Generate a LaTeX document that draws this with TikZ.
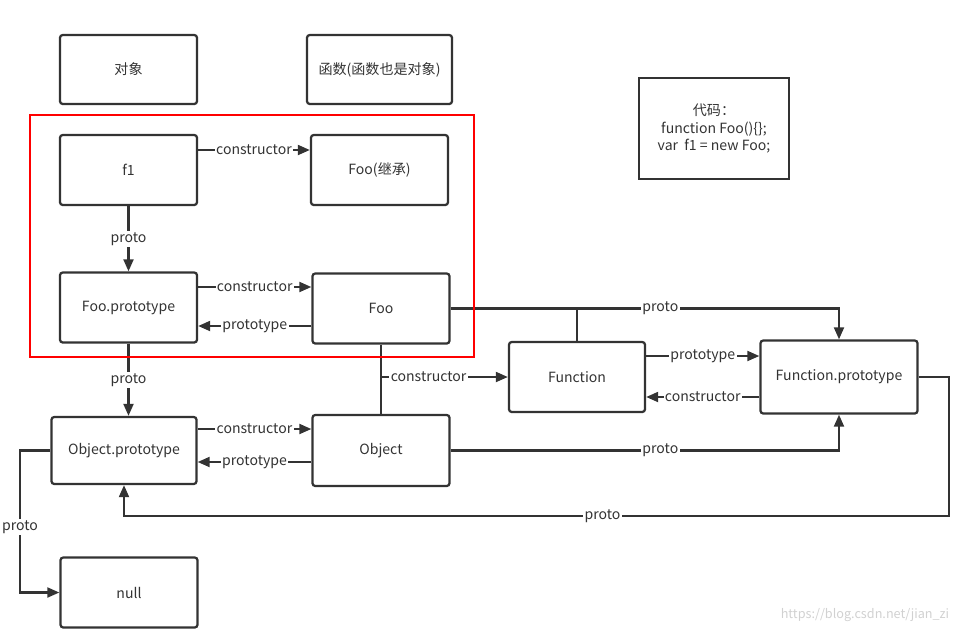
\documentclass[tikz,border=0pt]{standalone}
\usepackage{fontspec}
\setmainfont{Noto Sans CJK SC}
\usetikzlibrary{arrows.meta}
\definecolor{ink}{HTML}{333333}

\begin{document}
\begin{tikzpicture}[x = 0.025cm, y = -0.025cm, line width = 1.6pt, color = ink,
    box/.style = {draw, rounded corners = 2pt, minimum width = 3.425cm,
        minimum height = 1.75cm, font = \fontsize{10}{12}\selectfont},
    lab/.style = {fill = white, inner sep = 1pt, font = \fontsize{10}{12}\selectfont},
    > = {Triangle[length = 8.5pt, width = 7pt]}]
\useasboundingbox (0,0) rectangle (968,633);
\draw (128.5,69.5) node[box, minimum height = 1.725cm](dx){对象}
    (379.5,69.5) node[box, minimum width = 3.625cm, minimum height = 1.725cm](hs){函数(函数也是对象)}
    (714,128.5) node[draw, line width = 1.8pt, minimum width = 3.75cm, minimum height = 2.525cm,
        align = center, font = \fontsize{10}{12.5}\selectfont](code){代码：\\function Foo()\{\};\\var\ \ f1 = new Foo;}
    (128.5,170) node[box](f1){f1}
    (379.5,170) node[box](foo1){Foo(继承)}
    (128.5,307.5) node[box](foop){Foo.prototype}
    (381,308.5) node[box](foo){Foo}
    (577,377) node[box, minimum width = 3.4cm](fn){Function}
    (839,377) node[box, minimum width = 3.925cm, minimum height = 1.825cm](fp){Function.prototype}
    (124,450.5) node[box, minimum width = 3.625cm, minimum height = 1.675cm](op){Object.prototype}
    (381,450.5) node[box, minimum height = 1.775cm](obj){Object}
    (129,592.5) node[box](null){null};
\coordinate (r1) at (949,516);
\coordinate (l1) at (20,450.5);
    \draw [->] (f1.east |- 0,150) -- (foo1.west |- 0,150) node[midway,lab] {constructor};
    \draw [->] (f1) -- (foop) node[midway,lab] {proto};
    \draw [->] (foop.east |- 0,287) -- (foo.west |- 0,287) node[midway,lab] {constructor};
    \draw [->] (foo.west |- 0,326) -- (foop.east |- 0,326) node[midway,lab] {prototype};
    \draw [->] (foop.south) -- (foop.south |- op.north) node[midway,lab] {proto};
    \draw [->] (foo) -| (fp) node[pos=0.27,lab] {proto};
    \draw [-] (fn) -- (fn |- foo.east);
    \draw [-] (foo) -- (obj);
    \draw [->] (foo.south |- fn.west) -- (fn) node[pos=0.375,lab] {constructor};
    \draw [->] (fn.east |- 0,356) -- (fp.west |- 0,356) node[midway,lab] {prototype};
    \draw [->] (fp.west |- 0,397) -- (fn.east |- 0,397) node[midway,lab] {constructor};
    \draw [->] (op.east |- 0,429) -- (obj.west |- 0,429) node[midway,lab] {constructor};
    \draw [->] (obj.west |- 0,462) -- (op.east |- 0,462) node[midway,lab] {prototype};
    \draw [->] (obj) -| (fp) node[pos=0.27,lab] {proto};
    \draw [->] (fp) -| (r1) -| (op) node[pos=0.21,lab] {proto};
    \draw [->] (op) -- (l1) |- (null) node[pos=0.27,lab] {proto};
\draw [red, line width = 1.9pt] (30,115) rectangle (474,357);
\node[text = black!18, font = \fontsize{9}{11}\selectfont, anchor = east] (wm) at (955,615) {https://blog.csdn.net/jian\_zi};
\end{tikzpicture}
\end{document}
